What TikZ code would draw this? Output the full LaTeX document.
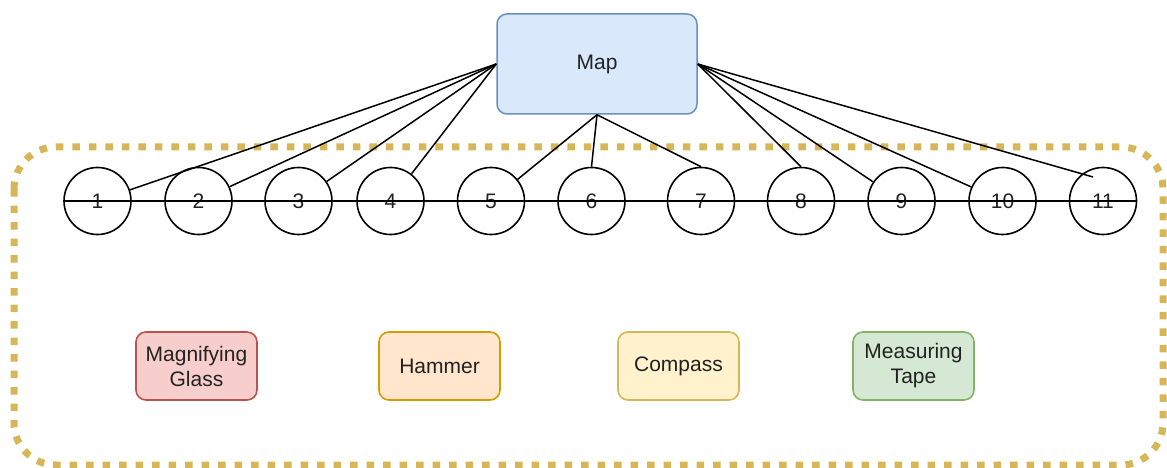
\documentclass[tikz,border=0pt]{standalone}
\usepackage{fontspec}
\setmainfont{Liberation Sans}
\definecolor{mapfill}{HTML}{DAE8FC}
\definecolor{mapline}{HTML}{6C8EBF}
\definecolor{redfill}{HTML}{F8CECC}
\definecolor{redline}{HTML}{B85450}
\definecolor{orgfill}{HTML}{FFE6CC}
\definecolor{orgline}{HTML}{D79B00}
\definecolor{yelfill}{HTML}{FFF2CC}
\definecolor{yelline}{HTML}{D6B656}
\definecolor{grnfill}{HTML}{D5E8D4}
\definecolor{grnline}{HTML}{82B366}
\definecolor{txt}{HTML}{222222}
\begin{document}
\begin{tikzpicture}[x=1pt,y=-1pt,
  every node/.style={font=\fontsize{21}{25}\selectfont, text=txt},
  spot/.style={circle, draw=black, line width=1.6pt, minimum size=67pt, inner sep=0pt},
  toolbox/.style={rectangle, rounded corners=10pt, line width=1.6pt, minimum width=121pt, minimum height=68pt, align=center, inner sep=2pt},
  link/.style={draw=black, line width=1.5pt},
  frame/.style={draw=yelline, line width=7pt, dash pattern=on 7.5pt off 9pt, rounded corners=42pt}]
\useasboundingbox (0,0) rectangle (1167,468);

% dotted region around the numbered points and the tools
\draw[frame] (14,147) rectangle (1163,465);

% map
\node[rectangle, rounded corners=10pt, draw=mapline, fill=mapfill, line width=1.5pt,
      minimum width=200pt, minimum height=100pt] (map) at (597,64) {Map};

% numbered points along the route
\foreach \i/\x in {1/97.5, 2/198.5, 3/298.5, 4/390.5, 5/491, 6/591.5, 7/701, 8/801, 9/901.5, 10/1002.5, 11/1103}
  \node[spot] (c\i) at (\x,201) {\i};

% route line through all points
\draw[link] (c1.west) -- (c11.east);

% links from the map to each point
\foreach \i in {1,2,3,4}
  \draw[link] (map.west) -- (c\i);
\draw[link] (map.south) -- (c5);
\draw[link] (map.south) -- (c6.north);
\draw[link] (map.south) -- (c7.north);
\draw[link] (map.east) -- (c8.north);
\draw[link] (map.east) -- (c9);
\draw[link] (map.east) -- (c10);
\coordinate (e11) at (1093,177);
\draw[link] (map.east) -- (e11);

% tools
\node[toolbox, draw=redline, fill=redfill] (glass) at (196.5,366) {Magnifying\\Glass};
\node[toolbox, draw=orgline, fill=orgfill] (hammer) at (439.5,366) {Hammer};
\node[toolbox, draw=yelline, fill=yelfill] (compass) at (678.5,366) {Compass};
\node[toolbox, draw=grnline, fill=grnfill] (tape) at (913.5,366) {Measuring\\Tape};
\end{tikzpicture}
\end{document}
